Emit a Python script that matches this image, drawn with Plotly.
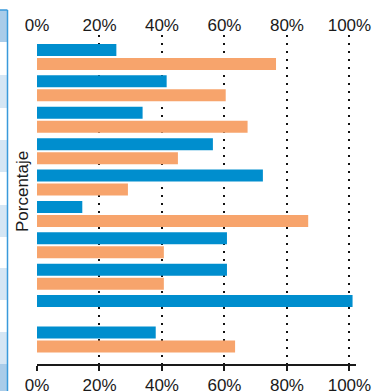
import plotly.graph_objects as go

# ---- data (percent)
categories = ["1", "2", "3", "4", "5", "6", "7", "8", "9", "10"]
serie_azul = [25.4, 41.5, 33.8, 56.3, 72.3, 14.5, 60.8, 60.8, 101.0, 38.0]
serie_naranja = [76.5, 60.4, 67.4, 45.1, 29.1, 86.8, 40.6, 40.6, None, 63.4]
tick_vals = [0, 20, 40, 60, 80, 100]
tick_text = ["0%", "20%", "40%", "60%", "80%", "100%"]

AZUL = "#008ECE"
NARANJA = "#F7A46C"
FONT = dict(family="Liberation Sans, Arial, sans-serif", size=17, color="#1a1a1a")

W, H = 374, 391
ML, MR, MT, MB = 37, 18, 35, 27
PW, PH = W - ML - MR, H - MT - MB


def px_x(p):
	return (p - ML) / PW


def px_y(p):
	return (H - MB - p) / PH


fig = go.Figure()
fig.add_trace(go.Bar(x=serie_azul, y=categories, orientation="h",
	marker_color=AZUL, name="A", hoverinfo="x"))
fig.add_trace(go.Bar(x=serie_naranja, y=categories, orientation="h",
	marker_color=NARANJA, name="B", hoverinfo="x"))
# empty trace so the top axis gets drawn
fig.add_trace(go.Scatter(x=serie_azul, y=categories, xaxis="x2", mode="none",
	showlegend=False, hoverinfo="skip"))

# ---- striped table panel cut off on the left edge
shapes = []
filas = [(10, 42, "#A9CCE9"), (75, 108, "#D5E6F4"), (140, 172, "#D5E6F4"),
	(205, 237, "#D5E6F4"), (268, 300, "#D5E6F4"), (332, 364, "#D5E6F4"),
	(364, 391, "#A9CCE9")]
for y0, y1, col in filas:
	shapes.append(dict(type="rect", xref="paper", yref="paper",
		x0=px_x(0), x1=px_x(7.5), y0=px_y(y1), y1=px_y(y0),
		fillcolor=col, line_width=0, layer="below"))
shapes.append(dict(type="line", xref="paper", yref="paper",
	x0=px_x(7.5), x1=px_x(7.5), y0=px_y(391), y1=px_y(10),
	line=dict(color="#3A9ADB", width=1.5)))
shapes.append(dict(type="line", xref="paper", yref="paper",
	x0=px_x(0), x1=px_x(7.5), y0=px_y(10), y1=px_y(10),
	line=dict(color="#3A9ADB", width=1.5)))

fig.update_layout(
	template="none",
	width=W, height=H,
	margin=dict(l=ML, r=MR, t=MT, b=MB),
	paper_bgcolor="white", plot_bgcolor="white",
	barmode="group", bargap=0.108, bargroupgap=0.143,
	showlegend=False,
	font=FONT,
	shapes=shapes,
	xaxis=dict(
		automargin=False,
		range=[0, 102.1], tickvals=tick_vals, ticktext=tick_text,
		showgrid=False, zeroline=False,
		showline=True, linecolor="#1a1a1a", linewidth=1.5,
		ticks="outside", ticklen=5, tickwidth=1.5, tickcolor="#1a1a1a",
		minor=dict(tickvals=tick_vals[1:], showgrid=True, gridcolor="#111111",
			gridwidth=1.5, griddash="2px,6px", ticks=""),
	),
	xaxis2=dict(
		automargin=False,
		overlaying="x", side="top", range=[0, 102.1],
		tickvals=tick_vals, ticktext=tick_text,
		showgrid=False, zeroline=False, showline=False, ticks="",
	),
	yaxis=dict(
		type="category", automargin=False,
		range=[9.78, -0.70], showticklabels=False, showgrid=False,
		zeroline=False, showline=False, ticks="",
	),
	annotations=[dict(text="Porcentaje", xref="paper", yref="paper",
		x=px_x(22), y=px_y(192), textangle=-90, showarrow=False,
		xanchor="center", yanchor="middle", font=FONT)],
)

# the page body has an 8px default margin; drop it so the figure sits at 0,0
fig.write_html("out.html", config={"displayModeBar": False},
	post_script="document.body.style.margin='0';")
